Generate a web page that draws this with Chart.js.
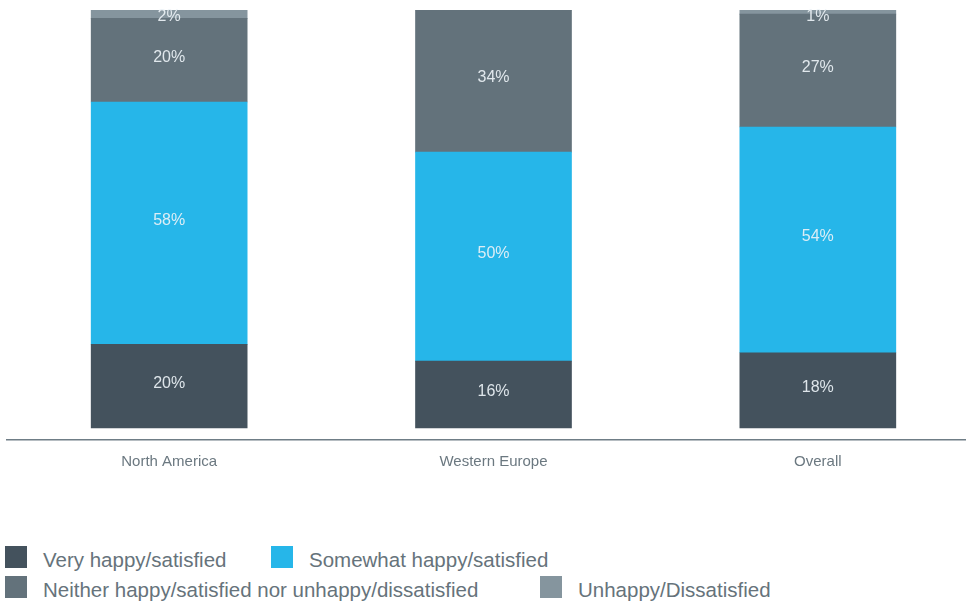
<!DOCTYPE html>
<html>
<head>
<meta charset="utf-8">
<script src="https://cdn.jsdelivr.net/npm/chart.js@4/dist/chart.umd.min.js"></script>
<style>
  html, body { margin: 0; padding: 0; background: #ffffff; overflow: hidden; }
  #wrap { position: relative; width: 966px; height: 602px; overflow: hidden; }
  #chart { position: absolute; left: 0; top: 0; }
  .lg-item { position: absolute; display: flex; align-items: center; height: 22px;
             font-family: "Liberation Sans", Arial, sans-serif; font-size: 20.5px; color: #66737b; white-space: nowrap; }
  .lg-box { width: 22px; height: 22px; margin-right: 16px; flex: none; }
  .lg-text { position: relative; top: 3px; }
</style>
</head>
<body>
<div id="wrap">
  <canvas id="chart" width="980" height="484"></canvas>
  <div id="legend"></div>
</div>
<script>
// Regions shown along the x axis
const regions = ['North America', 'Western Europe', 'Overall'];

// Share of respondents (%) per satisfaction level, one value per region
const veryHappy      = [20, 16, 18];
const somewhatHappy  = [58, 50, 54];
const neither        = [20, 34, 27];
const unhappy        = [2, 0, 1];

const seriesNames = [
  'Very happy/satisfied',
  'Somewhat happy/satisfied',
  'Neither happy/satisfied nor unhappy/dissatisfied',
  'Unhappy/Dissatisfied'
];
const seriesColors = ['#44525d', '#26b6e9', '#63727b', '#85959e'];

// Legend placement (two rows under the plot)
const legendSpots = [
  { left: 5,   top: 546 },
  { left: 271, top: 546 },
  { left: 5,   top: 576 },
  { left: 540, top: 576 }
];

// Writes each segment's percentage in the middle of its block
const segmentLabels = {
  id: 'segmentLabels',
  afterDatasetsDraw(chart) {
    const { ctx, chartArea } = chart;
    ctx.save();
    ctx.font = '16px "Liberation Sans", Arial, sans-serif';
    ctx.fillStyle = 'rgba(236, 242, 246, 0.92)';
    ctx.textAlign = 'center';
    ctx.textBaseline = 'middle';
    chart.data.datasets.forEach((ds, di) => {
      const meta = chart.getDatasetMeta(di);
      meta.data.forEach((el, i) => {
        const v = ds.data[i];
        if (!v) return;
        const { x, y, base } = el.getProps(['x', 'y', 'base'], true);
        let cy = (y + base) / 2 - 3;
        cy = Math.max(cy, chartArea.top + 7);
        ctx.fillText(v + '%', x, cy);
      });
    });
    ctx.restore();
  }
};

// HTML legend built from the chart's datasets
const htmlLegend = {
  id: 'htmlLegend',
  afterUpdate(chart) {
    const host = document.getElementById('legend');
    host.innerHTML = '';
    chart.data.datasets.forEach((ds, i) => {
      const item = document.createElement('div');
      item.className = 'lg-item';
      item.style.left = legendSpots[i].left + 'px';
      item.style.top = legendSpots[i].top + 'px';
      const box = document.createElement('span');
      box.className = 'lg-box';
      box.style.background = ds.backgroundColor;
      const txt = document.createElement('span');
      txt.className = 'lg-text';
      txt.textContent = ds.label;
      item.appendChild(box);
      item.appendChild(txt);
      host.appendChild(item);
    });
  }
};

const seriesValues = [veryHappy, somewhatHappy, neither, unhappy];

new Chart(document.getElementById('chart'), {
  type: 'bar',
  data: {
    labels: regions,
    datasets: seriesValues.map((vals, i) => ({
      label: seriesNames[i],
      data: vals,
      backgroundColor: seriesColors[i],
      borderWidth: 0,
      barThickness: 156
    }))
  },
  options: {
    responsive: false,
    animation: false,
    layout: { padding: { top: 10, left: 7, right: 0, bottom: 0 } },
    plugins: {
      legend: { display: false },
      tooltip: { enabled: false }
    },
    scales: {
      x: {
        stacked: true,
        grid: { display: false, drawTicks: false },
        border: { display: true, color: '#6f7d86', width: 1.5 },
        ticks: {
          color: '#6b7880',
          padding: 13,
          font: { family: '"Liberation Sans", Arial, sans-serif', size: 15 }
        }
      },
      y: {
        stacked: true,
        display: false,
        min: -2.87,
        max: 100
      }
    }
  },
  plugins: [segmentLabels, htmlLegend]
});
</script>
</body>
</html>
